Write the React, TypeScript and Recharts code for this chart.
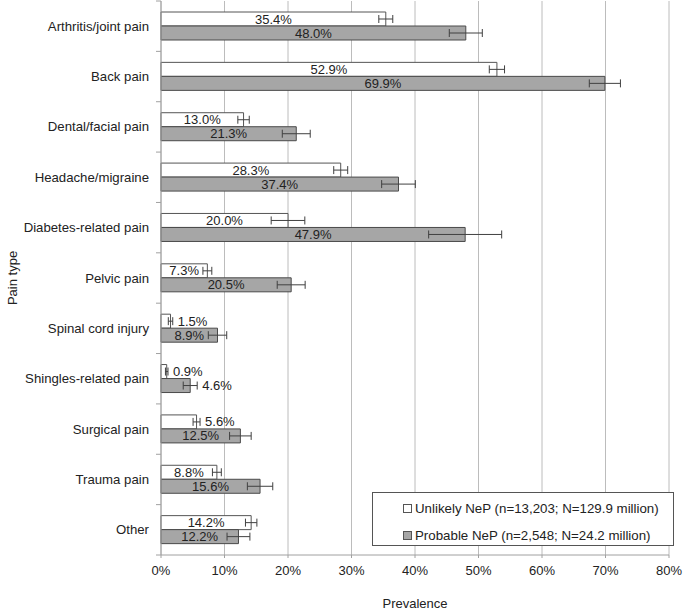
import { BarChart, Bar, XAxis, YAxis, CartesianGrid, ErrorBar, LabelList } from 'recharts';

const CATEGORIES = [
  'Arthritis/joint pain',
  'Back pain',
  'Dental/facial pain',
  'Headache/migraine',
  'Diabetes-related pain',
  'Pelvic pain',
  'Spinal cord injury',
  'Shingles-related pain',
  'Surgical pain',
  'Trauma pain',
  'Other',
];

const UNLIKELY = [35.4, 52.9, 13.0, 28.3, 20.0, 7.3, 1.5, 0.9, 5.6, 8.8, 14.2];
const PROBABLE = [48.0, 69.9, 21.3, 37.4, 47.9, 20.5, 8.9, 4.6, 12.5, 15.6, 12.2];
// half-width of the confidence interval
const UNLIKELY_ERR = [1.1, 1.2, 0.9, 1.1, 2.65, 0.7, 0.35, 0.2, 0.55, 0.7, 0.9];
const PROBABLE_ERR = [2.6, 2.45, 2.2, 2.65, 5.75, 2.2, 1.45, 1.1, 1.7, 2.0, 1.8];

const X_TICKS = [0, 10, 20, 30, 40, 50, 60, 70, 80];

const LEGEND_ITEMS = [
  { label: 'Unlikely NeP (n=13,203; N=129.9 million)', fill: '#ffffff' },
  { label: 'Probable NeP (n=2,548; N=24.2 million)', fill: '#a6a6a6' },
];

const data = CATEGORIES.map((name, i) => ({
  name,
  unlikely: UNLIKELY[i],
  probable: PROBABLE[i],
  unlikelyErr: UNLIKELY_ERR[i],
  probableErr: PROBABLE_ERR[i],
}));

const FONT = '"Liberation Sans", Arial, Helvetica, sans-serif';
const W = 683;
const H = 611;
const MARGIN = { top: 1, right: 14, bottom: 0, left: 0 };
const X_AXIS_H = 56;
const Y_AXIS_W = 161;
const BAND = (H - MARGIN.top - MARGIN.bottom - X_AXIS_H) / CATEGORIES.length;

function CategoryTick(props: any) {
  const { x, y, payload, index } = props;
  const axisX = x + 12;
  return (
    <g>
      <line x1={axisX - 5} x2={axisX} y1={y - BAND / 2} y2={y - BAND / 2} stroke="#a0a0a0" />
      {index === CATEGORIES.length - 1 && (
        <line x1={axisX - 5} x2={axisX} y1={y + BAND / 2} y2={y + BAND / 2} stroke="#a0a0a0" />
      )}
      <text x={x} y={y} dy={4.5} textAnchor="end" fontSize={13.2} fill="#222" fontFamily={FONT}>
        {payload.value}
      </text>
    </g>
  );
}

function makeLabel(errs: number[]) {
  return (props: any) => {
    const vb = props.viewBox ?? props;
    const { x, y, width, height } = vb;
    const value = Number(props.value);
    const idx = props.index;
    const text = `${value.toFixed(1)}%`;
    const cy = y + height / 2 + 4.5;
    if (value < 7) {
      const err = errs[idx] ?? 0;
      const end = x + width + (width / value) * err;
      return (
        <text x={end + 5} y={cy} textAnchor="start" fontSize={13} fill="#222" fontFamily={FONT}>
          {text}
        </text>
      );
    }
    return (
      <text x={x + width / 2} y={cy} textAnchor="middle" fontSize={13} fill="#222" fontFamily={FONT}>
        {text}
      </text>
    );
  };
}

function PainTypeLabel() {
  const cy = MARGIN.top + (H - MARGIN.top - MARGIN.bottom - X_AXIS_H) / 2;
  return (
    <text
      x={17}
      y={cy}
      transform={`rotate(-90 17 ${cy})`}
      textAnchor="middle"
      fontSize={13}
      fill="#222"
      fontFamily={FONT}
    >
      Pain type
    </text>
  );
}

export default function App() {
  return (
    <div style={{ position: 'absolute', left: 0, top: 0, width: W, height: H, fontFamily: FONT }}>
      <BarChart
        width={W}
        height={H}
        data={data}
        layout="vertical"
        margin={MARGIN}
        barSize={14}
        barGap={0}
      >
        <CartesianGrid vertical horizontal={false} stroke="#bcbcbc" />
        <XAxis
          type="number"
          domain={[0, 80]}
          ticks={X_TICKS}
          interval={0}
          tickFormatter={(v: number) => `${v}%`}
          height={X_AXIS_H}
          stroke="#a0a0a0"
          tickSize={3}
          tickMargin={8}
          tick={{ fontSize: 13, fill: '#222', fontFamily: FONT }}
          label={{
            value: 'Prevalence',
            position: 'insideBottom',
            offset: 3,
            fontSize: 13,
            fill: '#222',
            fontFamily: FONT,
          }}
        />
        <YAxis
          type="category"
          dataKey="name"
          width={Y_AXIS_W}
          stroke="#a0a0a0"
          tickLine={false}
          tickSize={5}
          tickMargin={7}
          interval={0}
          tick={<CategoryTick />}
          label={<PainTypeLabel />}
        />
        <Bar
          dataKey="unlikely"
          name="Unlikely NeP"
          fill="#ffffff"
          stroke="#555555"
          strokeWidth={1}
          isAnimationActive={false}
        >
          <ErrorBar dataKey="unlikelyErr" direction="x" width={4} stroke="#404040" strokeWidth={1} isAnimationActive={false} />
          <LabelList dataKey="unlikely" content={makeLabel(UNLIKELY_ERR)} />
        </Bar>
        <Bar
          dataKey="probable"
          name="Probable NeP"
          fill="#a6a6a6"
          stroke="#4a4a4a"
          strokeWidth={1}
          isAnimationActive={false}
        >
          <ErrorBar dataKey="probableErr" direction="x" width={4} stroke="#404040" strokeWidth={1} isAnimationActive={false} />
          <LabelList dataKey="probable" content={makeLabel(PROBABLE_ERR)} />
        </Bar>
      </BarChart>
      <div
        style={{
          position: 'absolute',
          left: 372,
          top: 492,
          width: 302,
          height: 54,
          boxSizing: 'border-box',
          border: '1px solid #555',
          background: '#fff',
        }}
      >
        {LEGEND_ITEMS.map((item, i) => (
          <div
            key={item.label}
            style={{
              position: 'absolute',
              left: 30,
              top: 6 + i * 27,
              height: 18,
              display: 'flex',
              alignItems: 'center',
              fontSize: 13.3,
              color: '#222',
              whiteSpace: 'nowrap',
            }}
          >
            <span
              style={{
                display: 'inline-block',
                width: 7,
                height: 7,
                border: '1px solid #555',
                background: item.fill,
                marginRight: 3,
              }}
            />
            {item.label}
          </div>
        ))}
      </div>
    </div>
  );
}
